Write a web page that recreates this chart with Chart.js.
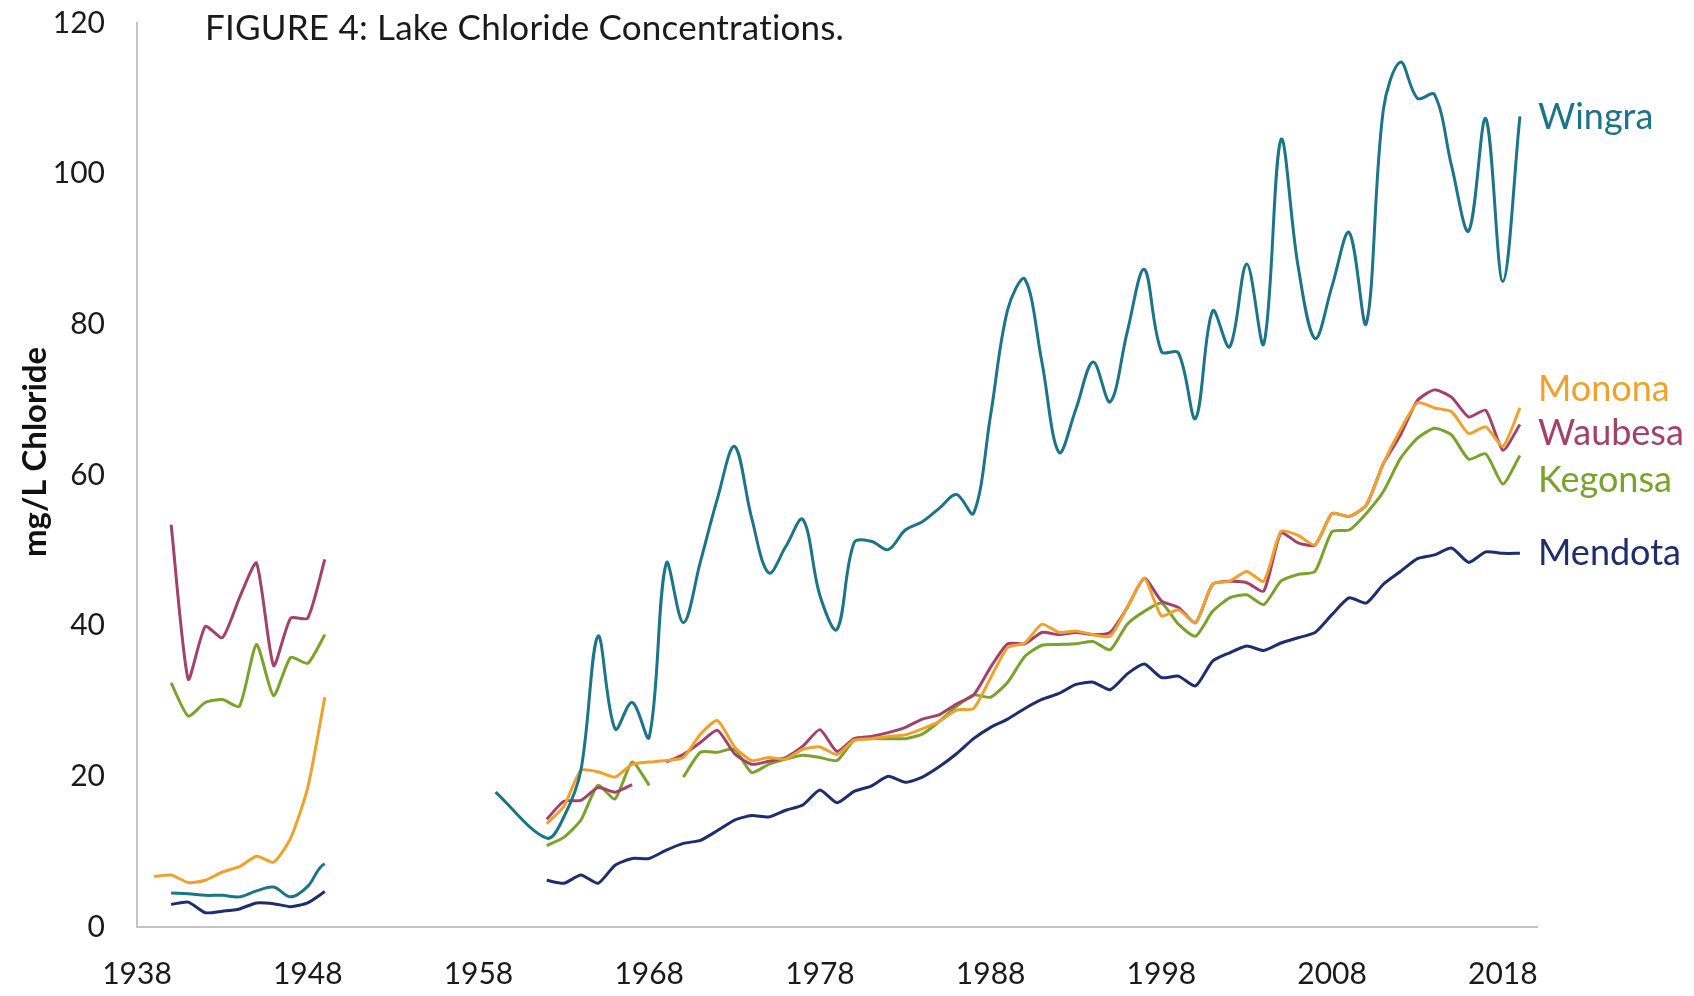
<!DOCTYPE html>
<html>
<head>
<meta charset="utf-8">
<title>Lake Chloride Concentrations</title>
<script src="https://cdn.jsdelivr.net/npm/chart.js@4.4.0/dist/chart.umd.min.js"></script>
<style>
  html, body { margin: 0; padding: 0; background: #fff; }
  #wrap { width: 1694px; height: 996px; position: relative; }
</style>
</head>
<body>
<div id="wrap"><canvas id="chlorideChart"></canvas></div>
<script>
// one entry per year, null = no sample that year
const years = [
  1939, 1940, 1941, 1942, 1943, 1944, 1945, 1946, 1947, 1948, 1949,
  1950, 1951, 1952, 1953, 1954, 1955, 1956, 1957, 1958, 1959, 1960, 1961,
  1962, 1963, 1964, 1965, 1966, 1967, 1968, 1969, 1970, 1971,
  1972, 1973, 1974, 1975, 1976, 1977, 1978, 1979, 1980, 1981,
  1982, 1983, 1984, 1985, 1986, 1987, 1988, 1989, 1990, 1991,
  1992, 1993, 1994, 1995, 1996, 1997, 1998, 1999, 2000, 2001,
  2002, 2003, 2004, 2005, 2006, 2007, 2008, 2009, 2010, 2011,
  2012, 2013, 2014, 2015, 2016, 2017, 2018, 2019
];

const wingra = [
  null, 4.5, 4.4, 4.2, 4.2, 4.0, 4.8, 5.3, 4.0, 5.4, 8.4,
  null, null, null, null, null, null, null, null, null, 17.9, null, null,
  11.8, 14.6, 20.8, 38.6, 26.3, 29.8, 25.2, 48.3, 40.4, 48.5,
  56.9, 63.8, 54.3, 47.0, 50.5, 54.1, 44.0, 39.5, 51.0, 51.2,
  50.1, 52.7, 53.8, 55.6, 57.4, 54.9, 68.0, 82.0, 86.0, 75.0,
  63.0, 68.8, 75.0, 69.7, 79.0, 87.3, 76.4, 76.2, 67.5, 81.8,
  77.0, 88.0, 77.4, 104.5, 87.8, 78.1, 85.1, 92.2, 80.1, 108.5,
  114.8, 110.0, 110.5, 101.0, 92.4, 107.3, 85.7, 107.6
];

const monona = [
  6.7, 6.9, 5.9, 6.2, 7.3, 8.0, 9.4, 8.6, 11.8, 18.5, 30.5,
  null, null, null, null, null, null, null, null, null, null, null, null,
  13.7, 16.0, 20.8, 20.6, 19.9, 21.6, 21.9, 22.1, 22.5, 25.6,
  27.4, 23.9, 22.1, 22.5, 22.3, 23.6, 23.9, 22.9, 24.8, 25.0,
  25.3, 25.5, 26.3, 27.3, 28.8, 29.0, 33.1, 37.1, 37.7, 40.2,
  39.1, 39.3, 38.8, 38.6, 42.4, 46.3, 41.3, 42.1, 40.4, 45.5,
  45.9, 47.2, 45.9, 52.5, 52.0, 50.7, 54.9, 54.5, 56.0, 61.5,
  66.0, 69.6, 68.9, 68.4, 65.5, 66.4, 63.8, 68.9
];

const waubesa = [
  null, 53.4, 32.9, 39.9, 38.4, 43.7, 48.3, 34.7, 41.0, 41.0, 48.8,
  null, null, null, null, null, null, null, null, null, null, null, null,
  14.3, 16.7, 16.8, 18.5, 17.9, 18.9, null, 21.9, 22.9, 24.5,
  26.1, 23.0, 21.6, 22.0, 22.5, 24.0, 26.2, 23.3, 25.0, 25.3,
  25.8, 26.5, 27.6, 28.2, 29.6, 30.8, 34.5, 37.6, 37.6, 39.1,
  38.8, 39.1, 38.8, 39.1, 42.4, 46.3, 43.3, 42.4, 40.4, 45.5,
  45.9, 45.7, 44.6, 52.3, 51.0, 50.7, 54.9, 54.5, 56.0, 61.5,
  65.3, 69.9, 71.3, 70.3, 67.7, 68.6, 63.3, 66.7
];

const kegonsa = [
  null, 32.4, 28.0, 29.8, 30.2, 29.3, 37.5, 30.7, 35.8, 35.0, 38.8,
  null, null, null, null, null, null, null, null, null, null, null, null,
  10.8, 11.9, 14.2, 18.8, 17.0, 21.9, 18.8, null, 19.9, 23.2,
  23.2, 23.6, 20.5, 21.6, 22.3, 22.8, 22.5, 22.1, 24.8, 25.0,
  25.0, 25.0, 25.6, 27.3, 29.3, 30.8, 30.5, 32.5, 35.9, 37.4,
  37.5, 37.6, 37.9, 36.8, 40.2, 41.9, 43.0, 40.2, 38.6, 41.9,
  43.7, 44.1, 42.8, 45.9, 46.8, 47.2, 52.5, 52.7, 54.9, 57.8,
  62.2, 64.9, 66.2, 65.3, 62.1, 62.8, 58.8, 62.6
];

const mendota = [
  null, 3.0, 3.3, 1.9, 2.1, 2.4, 3.2, 3.1, 2.7, 3.2, 4.7,
  null, null, null, null, null, null, null, null, null, null, null, null,
  6.2, 5.8, 6.9, 5.8, 8.2, 9.1, 9.1, 10.2, 11.1, 11.5,
  12.8, 14.2, 14.8, 14.6, 15.5, 16.2, 18.2, 16.5, 18.0, 18.7,
  20.0, 19.2, 19.9, 21.3, 23.0, 25.0, 26.5, 27.6, 29.0, 30.2,
  31.0, 32.2, 32.5, 31.5, 33.6, 34.9, 33.1, 33.3, 32.0, 35.3,
  36.4, 37.3, 36.7, 37.7, 38.4, 39.1, 41.5, 43.7, 43.0, 45.5,
  47.2, 48.9, 49.4, 50.3, 48.4, 49.8, 49.6, 49.6
];

const xTickYears = [1938, 1948, 1958, 1968, 1978, 1988, 1998, 2008, 2018];
const yTickValues = [0, 20, 40, 60, 80, 100, 120];

const lakeNames = ["Wingra", "Monona", "Waubesa", "Kegonsa", "Mendota"];
const lakeSeries = [wingra, monona, waubesa, kegonsa, mendota];
const lakeColors = ["#1b7488", "#eea12c", "#a2416b", "#7aa22c", "#1e2d6c"];
// where each name sits on the value scale, next to the line ends
const lakeLabelAt = [107.5, 71.3, 65.5, 59.3, 49.6];

const figureTitle = "FIGURE 4: Lake Chloride Concentrations.";
const yAxisTitle = "mg/L Chloride";

const FONT = "Lato, 'Open Sans', sans-serif";
const MAX_BRIDGED_GAP = 3;   // years; short gaps in Wingra are joined, long ones stay open

function toPoints(values) {
    return years.map((yr, i) => ({ x: yr, y: values[i] }));
}

// is the segment between data indexes i0 and i1 part of a long run of missing years?
function inLongGap(values, i0, i1) {
    if (values[i0] !== null && values[i1] !== null) return false;
    let a = i0;
    while (a > 0 && values[a] === null) a--;
    let b = i1;
    while (b < values.length - 1 && values[b] === null) b++;
    return years[b] - years[a] > MAX_BRIDGED_GAP;
}

// a point that starts a run after a long gap should curve towards its next point,
// not back towards the hidden one before the gap
const gapStartFix = {
    id: "gapStartFix",
    beforeDatasetDraw(chart, args) {
        const meta = args.meta;
        const values = lakeSeries[args.index];
        if (!meta.dataset || !meta.dataset.options.spanGaps) return;
        meta.dataset.updateControlPoints(chart.chartArea);
        const pts = meta.data;
        pts.forEach((pt, i) => {
            if (pt.skip || i === 0 || !inLongGap(values, i - 1, i)) return;
            let j = i + 1;
            while (j < pts.length && pts[j].skip) j++;
            if (j >= pts.length) return;
            pt.cp2x = pt.x + (pts[j].x - pt.x) / 3;
            pt.cp2y = pt.y + (pts[j].y - pt.y) / 3;
        });
    }
};

const textOverlay = {
    id: "textOverlay",
    afterDraw(chart) {
        const { ctx, chartArea, scales } = chart;
        ctx.save();
        ctx.fillStyle = "#1a1a1a";
        ctx.font = "35px " + FONT;
        ctx.letterSpacing = "0.2px";  // keeps "ti" from turning into a ligature
        ctx.textAlign = "left";
        ctx.textBaseline = "middle";
        ctx.fillText(figureTitle, chartArea.left + 68, 29);
        ctx.letterSpacing = "0px";

        // lake names at the right end of each line
        ctx.font = "36px " + FONT;
        lakeNames.forEach((name, i) => {
            ctx.fillStyle = lakeColors[i];
            ctx.fillText(name, chartArea.right + 1, scales.y.getPixelForValue(lakeLabelAt[i]));
        });

        // rotated y axis title
        ctx.translate(35, 452);
        ctx.rotate(-Math.PI / 2);
        ctx.fillStyle = "#111";
        ctx.font = "bold 33px " + FONT;
        ctx.textAlign = "center";
        ctx.fillText(yAxisTitle, 0, 0);
        ctx.restore();
    }
};

const datasets = lakeNames.map((name, i) => {
    const values = lakeSeries[i];
    const isWingra = name === "Wingra";
    return {
        label: name,
        data: toPoints(values),
        borderColor: lakeColors[i],
        borderWidth: 3,
        pointRadius: 0,
        tension: isWingra ? 0.35 : 0.2,
        fill: false,
        spanGaps: isWingra,
        segment: isWingra ? {
            borderColor: (c) => (inLongGap(values, c.p0DataIndex, c.p1DataIndex) ? "rgba(0,0,0,0)" : undefined),
        } : undefined,
    };
});

const ctx = document.getElementById("chlorideChart").getContext("2d");

const chlorideChart = new Chart(ctx, {
    type: "line",
    data: { datasets: datasets },
    plugins: [gapStartFix, textOverlay],
    options: {
        responsive: true,
        maintainAspectRatio: false,
        animation: false,
        devicePixelRatio: 1,
        layout: { padding: { left: 0, top: 23, right: 157, bottom: 0 } },
        plugins: {
            legend: { display: false },
            title: { display: false },
            tooltip: { enabled: false },
        },
        scales: {
            x: {
                type: "linear",
                min: 1938,
                max: 2020,
                afterBuildTicks: (scale) => {
                    scale.ticks = xTickYears.map(v => ({ value: v }));
                },
                afterFit: (scale) => {
                    scale.height = 69;
                    scale.paddingLeft = 0;
                    scale.paddingRight = 0;
                },
                grid: { display: false, drawTicks: false },
                border: { display: true, color: "#c4c4c4", width: 2 },
                ticks: {
                    autoSkip: false,
                    maxRotation: 0,
                    padding: 29,
                    color: "#1a1a1a",
                    font: { family: FONT, size: 30 },
                    callback: (value) => String(value),
                },
            },
            y: {
                min: 0,
                max: 120,
                afterBuildTicks: (scale) => {
                    scale.ticks = yTickValues.map(v => ({ value: v }));
                },
                afterFit: (scale) => {
                    scale.width = 137;
                    scale.paddingTop = 0;
                    scale.paddingBottom = 0;
                },
                grid: { display: false, drawTicks: false },
                border: { display: true, color: "#c4c4c4", width: 2 },
                ticks: {
                    padding: 32,
                    color: "#1a1a1a",
                    font: { family: FONT, size: 30 },
                },
            },
        },
    },
});
</script>
</body>
</html>
